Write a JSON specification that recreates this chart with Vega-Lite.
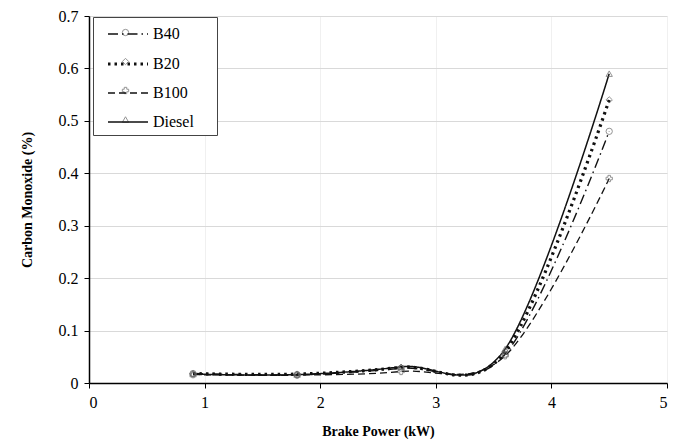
{
  "$schema": "https://vega.github.io/schema/vega-lite/v6.json",
  "width": 578,
  "height": 367,
  "autosize": {"type": "none"},
  "padding": {"left": 89, "top": 16, "right": 13, "bottom": 59},
  "background": "white",
  "config": {
    "font": "Liberation Serif",
    "view": {"stroke": null},
    "axis": {
      "labelFont": "Liberation Serif",
      "titleFont": "Liberation Serif",
      "labelFontSize": 16,
      "titleFontSize": 14,
      "titleFontWeight": "bold",
      "labelColor": "#000",
      "titleColor": "#000",
      "domainColor": "#000",
      "domainWidth": 1.5,
      "tickColor": "#000",
      "tickSize": 5
    },
    "legend": {"labelFont": "Liberation Serif"}
  },
  "data": {
    "values": [
      {"bp": 0.9, "co": 0.018, "fuel": "B40"},
      {"bp": 1.8, "co": 0.016, "fuel": "B40"},
      {"bp": 2.7, "co": 0.028, "fuel": "B40"},
      {"bp": 3.6, "co": 0.055, "fuel": "B40"},
      {"bp": 4.5, "co": 0.48, "fuel": "B40"},
      {"bp": 0.9, "co": 0.018, "fuel": "B20"},
      {"bp": 1.8, "co": 0.017, "fuel": "B20"},
      {"bp": 2.7, "co": 0.03, "fuel": "B20"},
      {"bp": 3.6, "co": 0.06, "fuel": "B20"},
      {"bp": 4.5, "co": 0.54, "fuel": "B20"},
      {"bp": 0.9, "co": 0.016, "fuel": "B100"},
      {"bp": 1.8, "co": 0.015, "fuel": "B100"},
      {"bp": 2.7, "co": 0.022, "fuel": "B100"},
      {"bp": 3.6, "co": 0.052, "fuel": "B100"},
      {"bp": 4.5, "co": 0.39, "fuel": "B100"},
      {"bp": 0.9, "co": 0.017, "fuel": "Diesel"},
      {"bp": 1.8, "co": 0.016, "fuel": "Diesel"},
      {"bp": 2.7, "co": 0.031, "fuel": "Diesel"},
      {"bp": 3.6, "co": 0.065, "fuel": "Diesel"},
      {"bp": 4.5, "co": 0.59, "fuel": "Diesel"}
    ]
  },
  "encoding": {
    "x": {
      "field": "bp", "type": "quantitative",
      "title": "Brake Power (kW)",
      "scale": {"domain": [0, 5], "nice": false, "zero": false},
      "axis": {"values": [0, 1, 2, 3, 4, 5], "format": "d", "grid": true, "gridColor": "#f0f0f0", "titlePadding": 14, "labelPadding": 6, "labelFont": "Liberation Serif"}
    },
    "y": {
      "field": "co", "type": "quantitative",
      "title": "Carbon Monoxide (%)",
      "scale": {"domain": [0, 0.7], "nice": false},
      "axis": {"values": [0, 0.1, 0.2, 0.3, 0.4, 0.5, 0.6, 0.7], "format": ".1~f", "grid": true, "gridColor": "#d9d9d9", "titlePadding": 24, "labelPadding": 6, "labelFont": "Liberation Serif"}
    }
  },
  "layer": [
    {
      "mark": {"type": "line", "interpolate": "cardinal", "color": "#111", "strokeCap": "butt"},
      "encoding": {
        "strokeDash": {
          "field": "fuel", "type": "nominal",
          "scale": {"domain": ["B40", "B20", "B100", "Diesel"], "range": [[10, 4, 1.5, 4], [2.5, 4], [7, 4], [1, 0]]},
          "legend": {
            "title": null,
            "orient": "none",
            "legendX": 17,
            "legendY": -3,
            "zindex": 2,
            "padding": 0,
            "labelFontSize": 16,
            "labelColor": "#000",
            "symbolType": "stroke",
            "symbolSize": 1600,
            "symbolStrokeColor": "#111",
            "symbolStrokeWidth": 2,
            "rowPadding": 0,
            "labelOffset": 3
          }
        },
        "strokeWidth": {
          "field": "fuel", "type": "nominal",
          "scale": {"type": "ordinal", "domain": ["B40", "B20", "B100", "Diesel"], "range": [1.4, 3.2, 1.3, 1.5]},
          "legend": null
        }
      }
    },
    {
      "mark": {"type": "point", "filled": false, "size": 40, "strokeWidth": 1, "color": "#666"},
      "encoding": {
        "shape": {
          "field": "fuel", "type": "nominal",
          "sort": ["B40", "B20", "B100", "Diesel"],
          "scale": {"range": ["circle", "diamond", "cross", "triangle-up"]},
          "legend": {
            "title": null,
            "orient": "none",
            "legendX": 4,
            "legendY": 1,
            "zindex": 1,
            "padding": 7.5,
            "strokeColor": "#444",
            "fillColor": "white",
            "labelFontSize": 16,
            "labelOpacity": 0,
            "labelOffset": 35,
            "symbolSize": 40,
            "symbolStrokeColor": "#666",
            "symbolFillColor": "white",
            "symbolStrokeWidth": 1,
            "symbolOffset": 17,
            "rowPadding": 13
          }
        }
      }
    }
  ]
}
